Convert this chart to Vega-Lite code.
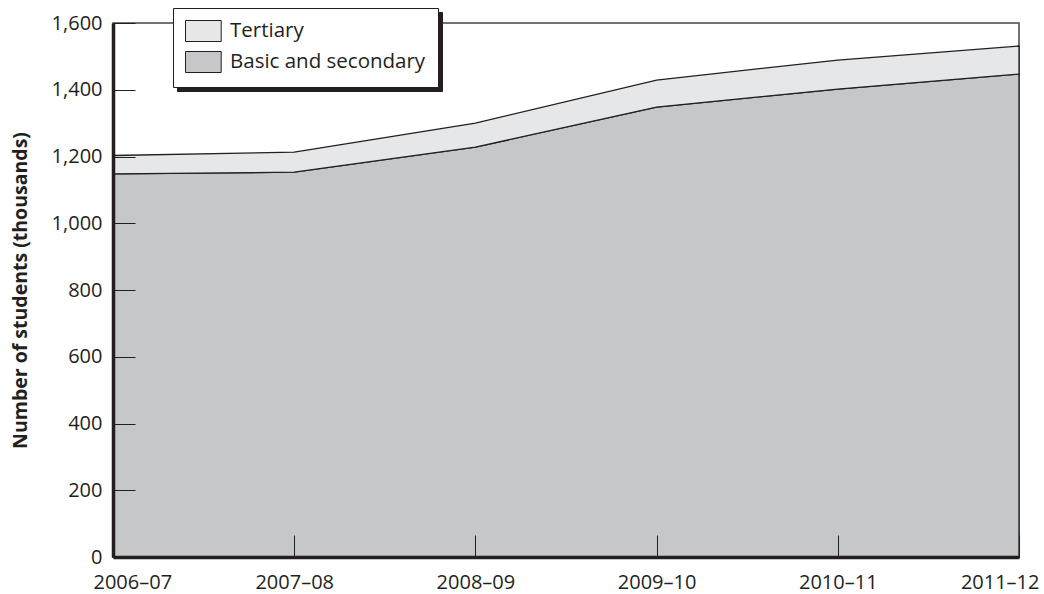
{
  "$schema": "https://vega.github.io/schema/vega-lite/v6.json",
  "width": 906,
  "height": 534,
  "autosize": {"type": "none"},
  "padding": {"left": 113, "top": 23, "right": 25, "bottom": 37},
  "background": "white",
  "config": {
    "font": "Open Sans",
    "view": {"stroke": "#444444", "strokeWidth": 1.5},
    "axis": {"labelFont": "Open Sans", "titleFont": "Open Sans", "labelColor": "#231f20", "titleColor": "#231f20"}
  },
  "data": {
    "values": [
      {"year": "2006–07", "category": "Basic and secondary", "students": 1148},
      {"year": "2007–08", "category": "Basic and secondary", "students": 1153},
      {"year": "2008–09", "category": "Basic and secondary", "students": 1228},
      {"year": "2009–10", "category": "Basic and secondary", "students": 1348},
      {"year": "2010–11", "category": "Basic and secondary", "students": 1402},
      {"year": "2011–12", "category": "Basic and secondary", "students": 1447},
      {"year": "2006–07", "category": "Tertiary", "students": 55},
      {"year": "2007–08", "category": "Tertiary", "students": 60},
      {"year": "2008–09", "category": "Tertiary", "students": 72},
      {"year": "2009–10", "category": "Tertiary", "students": 81},
      {"year": "2010–11", "category": "Tertiary", "students": 87},
      {"year": "2011–12", "category": "Tertiary", "students": 84}
    ]
  },
  "encoding": {
    "x": {
      "field": "year",
      "type": "ordinal",
      "scale": {"type": "point", "padding": 0},
      "axis": {
        "title": null,
        "zindex": 1,
        "labelAngle": 0,
        "labelFontSize": 20,
        "labelPadding": 37,
        "labelFlush": true,
        "labelFlushOffset": 20,
        "tickSize": -22,
        "tickColor": "#231f20",
        "tickWidth": 1,
        "domainColor": "#231f20",
        "domainWidth": 3.5
      }
    }
  },
  "layer": [
    {
      "mark": {"type": "area", "stroke": "#231f20", "strokeWidth": 1.3, "opacity": 1},
      "encoding": {
        "y": {
          "field": "students",
          "type": "quantitative",
          "stack": "zero",
          "scale": {"domain": [0, 1600], "nice": false},
          "axis": {
            "title": "Number of students (thousands)",
            "zindex": 1,
            "titleFontSize": 19.5,
            "titleFontWeight": "bold",
            "titlePadding": 21,
            "values": [0, 200, 400, 600, 800, 1000, 1200, 1400, 1600],
            "format": ",d",
            "labelFontSize": 20,
            "labelPadding": 33,
            "tickSize": -22,
            "tickColor": "#231f20",
            "tickWidth": 1,
            "domainColor": "#231f20",
            "domainWidth": 3.5,
            "grid": false
          }
        },
        "order": {"field": "category", "type": "nominal", "sort": "ascending"},
        "color": {
          "field": "category",
          "type": "nominal",
          "scale": {"domain": ["Tertiary", "Basic and secondary"], "range": ["#e6e7e8", "#c6c7c9"]},
          "legend": {
            "title": null,
            "orient": "none",
            "legendX": 60,
            "legendY": -15,
            "zindex": 3,
            "fillColor": "white",
            "strokeColor": "#231f20",
            "padding": 12,
            "symbolType": "M-1,-1L2.4,-1L2.4,1L-1,1Z",
            "symbolSize": 441,
            "symbolStrokeColor": "#231f20",
            "symbolStrokeWidth": 1,
            "symbolOpacity": 1,
            "labelFontSize": 20.5,
            "labelColor": "#231f20",
            "labelOffset": 23,
            "labelLimit": 400,
            "rowPadding": 5
          }
        }
      }
    },
    {
      "mark": {"type": "point", "opacity": 0},
      "encoding": {
        "y": {"field": "students", "type": "quantitative"},
        "stroke": {
          "field": "students",
          "type": "quantitative",
          "scale": {"range": ["#231f20", "#231f20"]},
          "legend": {
            "title": null,
            "orient": "none",
            "direction": "horizontal",
            "legendX": 64,
            "legendY": -11,
            "zindex": 2,
            "fillColor": "#231f20",
            "strokeColor": "#231f20",
            "padding": 12,
            "labels": false,
            "gradientLength": 241,
            "gradientThickness": 43,
            "gradientStrokeWidth": 0
          }
        }
      }
    }
  ]
}
